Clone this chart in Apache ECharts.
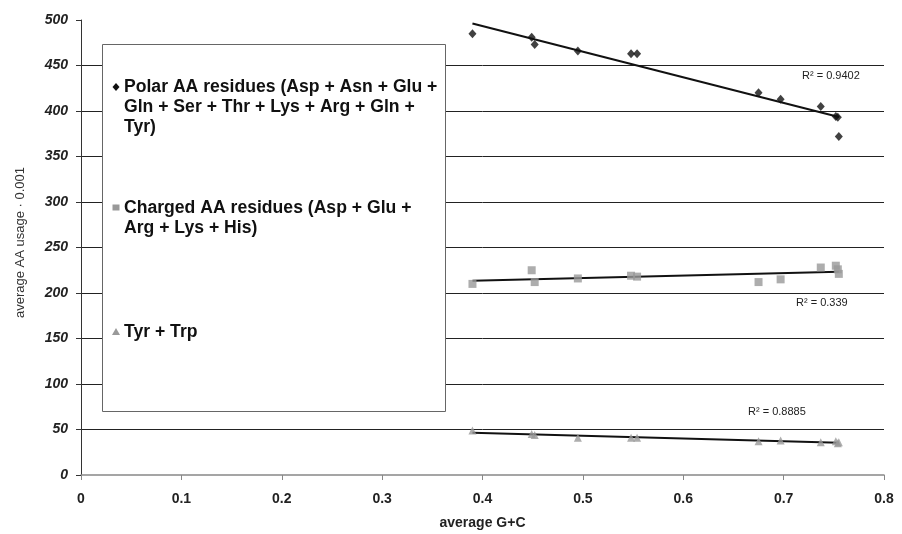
<!DOCTYPE html>
<html>
<head>
<meta charset="utf-8">
<script src="https://cdn.jsdelivr.net/npm/echarts@6/dist/echarts.min.js"></script>
<style>
  html, body { margin: 0; padding: 0; background: #fff; }
  #chart { width: 902px; height: 534px; }
</style>
</head>
<body>
<div id="chart"></div>
<script>
// Average G+C content of each genome
const gcContent = [0.390, 0.449, 0.452, 0.495, 0.548, 0.554, 0.675, 0.697, 0.737, 0.752, 0.754, 0.755];
// Average amino-acid usage (x 0.001) for each genome
const polarUsage = [485, 481, 473, 466, 463, 463, 420, 413, 405, 394, 393, 372];
const chargedUsage = [210, 225, 212, 216, 219, 218, 212, 215, 228, 230, 226, 221];
const aromaticUsage = [49, 45, 44, 41, 41, 41, 37, 38, 36, 37, 35, 36];

const seriesNames = [
  'Polar AA residues (Asp + Asn + Glu +\nGln + Ser + Thr + Lys + Arg + Gln +\nTyr)',
  'Charged AA residues (Asp + Glu +\nArg + Lys + His)',
  'Tyr + Trp'
];
const rSquared = ['0.9402', '0.339', '0.8885'];

const FONT = '"Liberation Sans", Arial, sans-serif';

// Least-squares line across the range of x
function trend(xs, ys) {
  const n = xs.length;
  const mx = xs.reduce((a, b) => a + b, 0) / n;
  const my = ys.reduce((a, b) => a + b, 0) / n;
  let sxy = 0, sxx = 0;
  for (let i = 0; i < n; i++) {
    sxy += (xs[i] - mx) * (ys[i] - my);
    sxx += (xs[i] - mx) * (xs[i] - mx);
  }
  const k = sxy / sxx, b = my - k * mx;
  const x0 = Math.min(...xs), x1 = Math.max(...xs);
  return [[x0, k * x0 + b], [x1, k * x1 + b]];
}

const pairs = ys => gcContent.map((x, i) => [x, ys[i]]);

const chart = echarts.init(document.getElementById('chart'), null, { renderer: 'canvas' });

const trendLine = (ys) => ({
  type: 'line',
  data: trend(gcContent, ys),
  showSymbol: false,
  silent: true,
  lineStyle: { color: '#111', width: 2 },
  z: 3
});

const legendFont = 'bold 17.6px ' + FONT;

chart.setOption({
  animation: false,
  backgroundColor: '#fff',
  grid: { left: 81, top: 20, width: 803, height: 455, containLabel: false, outerBoundsMode: 'none' },
  xAxis: {
    type: 'value',
    min: 0, max: 0.8, interval: 0.1,
    name: 'average G+C',
    nameLocation: 'middle',
    nameGap: 41,
    nameTextStyle: { fontFamily: FONT, fontWeight: 'bold', fontSize: 14, color: '#222' },
    axisLine: { show: true, lineStyle: { color: '#888', width: 1.5 } },
    axisTick: { show: true, length: 5, lineStyle: { color: '#888' } },
    axisLabel: { fontFamily: FONT, fontWeight: 'bold', fontSize: 14, color: '#222', margin: 17 },
    splitLine: { show: false }
  },
  yAxis: {
    type: 'value',
    min: 0, max: 500, interval: 50,
    name: 'average AA usage · 0.001',
    nameLocation: 'middle',
    nameRotate: 90,
    nameGap: 54,
    nameTextStyle: { fontFamily: FONT, fontSize: 13, color: '#333', padding: [0, 0, 0, 10] },
    axisLine: { show: true, lineStyle: { color: '#333', width: 1 } },
    axisTick: { show: true, length: 5, lineStyle: { color: '#333' } },
    axisLabel: { fontFamily: FONT, fontWeight: 'bold', fontStyle: 'italic', fontSize: 14, color: '#222', margin: 13 },
    splitLine: { show: true, showMinLine: false, showMaxLine: false, lineStyle: { color: '#222', width: 1 } }
  },
  series: [
    {
      name: seriesNames[0], type: 'scatter', data: pairs(polarUsage),
      symbol: 'diamond', symbolSize: [8, 9],
      itemStyle: { color: '#111' }, z: 4
    },
    {
      name: seriesNames[1], type: 'scatter', data: pairs(chargedUsage),
      symbol: 'rect', symbolSize: 8,
      itemStyle: { color: '#999' }, z: 4
    },
    {
      name: seriesNames[2], type: 'scatter', data: pairs(aromaticUsage),
      symbol: 'triangle', symbolSize: 8,
      itemStyle: { color: '#999' }, z: 4
    },
    trendLine(polarUsage),
    trendLine(chargedUsage),
    trendLine(aromaticUsage)
  ],
  graphic: [
    // legend box
    { type: 'rect', z: 100, shape: { x: 102.5, y: 44.5, width: 343, height: 367 },
      style: { fill: '#fff', stroke: '#666', lineWidth: 1 } },
    { type: 'text', z: 101, x: 124, y: 77,
      style: { text: seriesNames[0], font: legendFont, lineHeight: 20, fill: '#111' } },
    { type: 'text', z: 101, x: 124, y: 198,
      style: { text: seriesNames[1], font: legendFont, lineHeight: 20, fill: '#111' } },
    { type: 'text', z: 101, x: 124, y: 322,
      style: { text: seriesNames[2], font: legendFont, lineHeight: 20, fill: '#111' } },
    { type: 'polygon', z: 101, shape: { points: [[116, 83], [119.5, 87], [116, 91], [112.5, 87]] },
      style: { fill: '#111' } },
    { type: 'rect', z: 101, shape: { x: 112.5, y: 204.5, width: 7, height: 6 },
      style: { fill: '#999' } },
    { type: 'polygon', z: 101, shape: { points: [[116, 328], [120, 335], [112, 335]] },
      style: { fill: '#999' } },
    // R-squared labels of the trend lines
    { type: 'text', z: 101, x: 802, y: 70,
      style: { text: 'R² = ' + rSquared[0], font: '11px ' + FONT, fill: '#222' } },
    { type: 'text', z: 101, x: 796, y: 297,
      style: { text: 'R² = ' + rSquared[1], font: '11px ' + FONT, fill: '#222' } },
    { type: 'text', z: 101, x: 748, y: 406,
      style: { text: 'R² = ' + rSquared[2], font: '11px ' + FONT, fill: '#222' } }
  ]
});
</script>
</body>
</html>
